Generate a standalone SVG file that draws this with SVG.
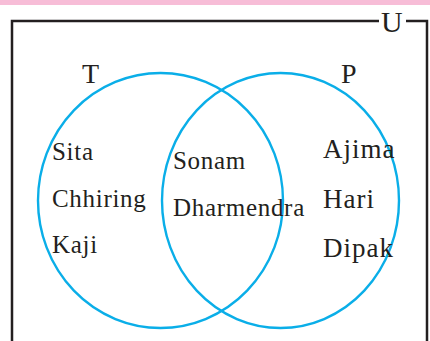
<svg xmlns="http://www.w3.org/2000/svg" width="430" height="341" viewBox="0 0 430 341">
<style>
.set{fill:none;stroke:#0aaee8;stroke-width:2.4}
.box{fill:none;stroke:#231f20;stroke-width:2.5}
text{font-family:"Liberation Serif","Times New Roman",serif;fill:#231f20}
.el{font-size:25px;letter-spacing:0.7px}
.wide{font-size:27px;letter-spacing:1px}
.lab{font-size:28px}
</style>
<rect x="0" y="0" width="430" height="5" fill="#f7bdd7"/>
<g id="universe">
<path class="box" d="M12,341 V21 H379 M406,21 H427 V341"/>
<text class="lab" x="381" y="32" style="font-size:30px">U</text>
</g>
<g id="setT">
<ellipse class="set" cx="160.5" cy="200.5" rx="122.5" ry="127.5"/>
<text class="lab" x="82" y="83">T</text>
</g>
<g id="setP">
<ellipse class="set" cx="280.5" cy="200.5" rx="118.5" ry="127.5"/>
<text class="lab" x="341" y="83">P</text>
</g>
<g id="onlyT">
<text class="el" x="52" y="160">Sita</text>
<text class="el" x="52" y="207">Chhiring</text>
<text class="el" x="52" y="253">Kaji</text>
</g>
<g id="both">
<text class="el" x="173" y="169">Sonam</text>
<text class="el" x="173" y="216">Dharmendra</text>
</g>
<g id="onlyP">
<text class="el wide" x="323" y="158">Ajima</text>
<text class="el wide" x="323" y="208">Hari</text>
<text class="el wide" x="323" y="257">Dipak</text>
</g>
<g id="connectors"></g>
</svg>
